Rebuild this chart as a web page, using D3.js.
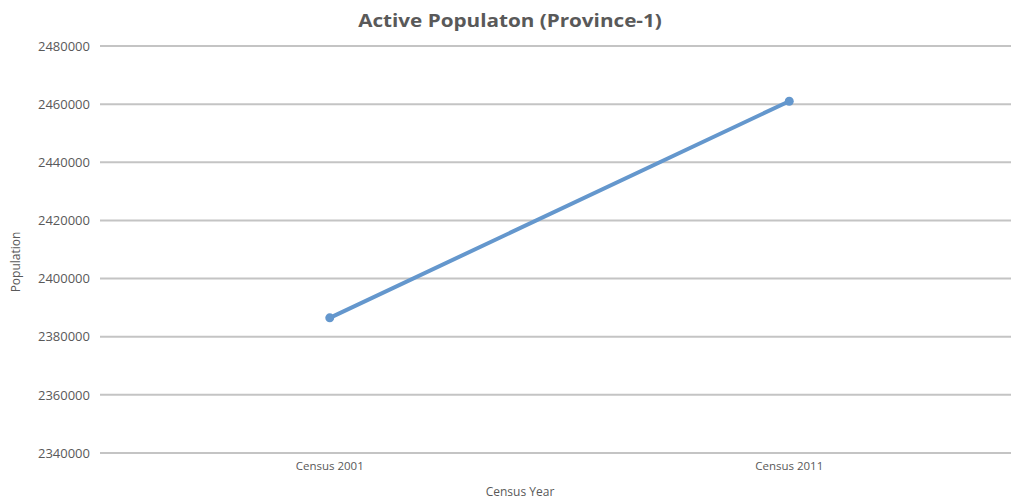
<!DOCTYPE html>
<html>
<head>
<meta charset="utf-8">
<script src="https://cdn.jsdelivr.net/npm/d3@7"></script>
<style>
  html, body { margin: 0; padding: 0; background: #fff; }
  svg { display: block; }
  svg text { font-family: "Open Sans", "Liberation Sans", sans-serif; }
</style>
</head>
<body>
<svg id="chart" width="1011" height="499"></svg>
<script>
// Active population by census
const categories = ["Census 2001", "Census 2011"];
const population = [2386500, 2461000];
const yTicks = [2340000, 2360000, 2380000, 2400000, 2420000, 2440000, 2460000, 2480000];

(function () {
  const svg = d3.select("#chart");
  const plot = { left: 100, right: 1019, top: 46, bottom: 453 };
  const textColor = "#595959";

  const x = d3.scaleBand().domain(categories).range([plot.left, plot.right]).padding(0);
  const y = d3.scaleLinear().domain([2340000, 2480000]).range([plot.bottom, plot.top]);

  // horizontal gridlines
  svg.append("g")
    .selectAll("line")
    .data(yTicks)
    .join("line")
    .attr("x1", plot.left).attr("x2", plot.right)
    .attr("y1", d => y(d)).attr("y2", d => y(d))
    .attr("stroke", "#c4c4c4")
    .attr("stroke-width", 2);

  // y axis labels
  const yAxis = d3.axisLeft(y).tickValues(yTicks).tickSize(0).tickPadding(10).tickFormat(d3.format("d"));
  const gy = svg.append("g").attr("transform", `translate(${plot.left},0)`).call(yAxis)
    .attr("font-family", null);
  gy.select(".domain").remove();
  gy.selectAll("text").attr("fill", textColor).attr("font-size", 13);

  // x axis labels
  const xAxis = d3.axisBottom(x).tickSize(0).tickPadding(9);
  const gx = svg.append("g").attr("transform", `translate(0,${plot.bottom})`).call(xAxis)
    .attr("font-family", null);
  gx.select(".domain").remove();
  gx.selectAll("text").attr("fill", textColor).attr("font-size", 11.5);

  // line with markers
  const cx = (d, i) => x(categories[i]) + x.bandwidth() / 2;
  const line = d3.line().x(cx).y(d => y(d));

  svg.append("path")
    .datum(population)
    .attr("d", line)
    .attr("fill", "none")
    .attr("stroke", "#6497cd")
    .attr("stroke-width", 4)
    .attr("stroke-linecap", "round");

  svg.append("g")
    .selectAll("circle")
    .data(population)
    .join("circle")
    .attr("cx", cx)
    .attr("cy", d => y(d))
    .attr("r", 4.5)
    .attr("fill", "#6497cd");

  // title
  svg.append("text")
    .attr("transform", "translate(510,27) scale(1.15,1)")
    .attr("text-anchor", "middle")
    .attr("font-size", 18)
    .attr("font-weight", "bold")
    .attr("fill", textColor)
    .text("Active Populaton (Province-1)");

  // axis titles
  svg.append("text")
    .attr("x", 520).attr("y", 496)
    .attr("text-anchor", "middle")
    .attr("font-size", 12)
    .attr("fill", textColor)
    .text("Census Year");

  svg.append("text")
    .attr("transform", "translate(20,262) rotate(-90)")
    .attr("text-anchor", "middle")
    .attr("font-size", 12)
    .attr("fill", textColor)
    .text("Population");
})();
</script>
</body>
</html>
